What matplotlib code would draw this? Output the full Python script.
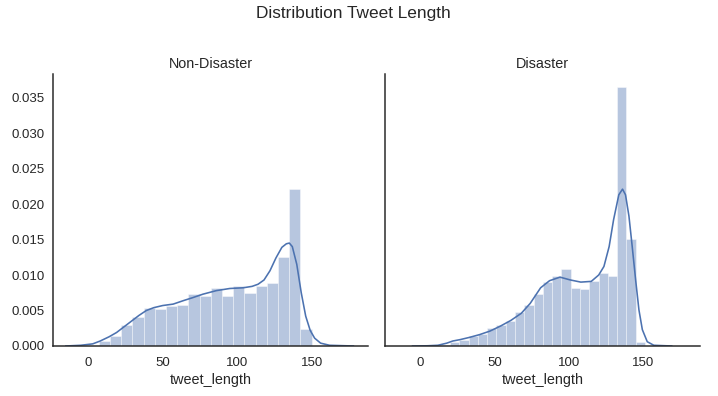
import numpy as np
import matplotlib
matplotlib.use("Agg")
from matplotlib import pyplot as plt

# histogram densities
non_disaster_hist = [0.0007, 0.0014, 0.0030, 0.0041, 0.0053, 0.0052, 0.0056, 0.0058,
                     0.0073, 0.0070, 0.0082, 0.0070, 0.0085, 0.0075, 0.0084, 0.0089,
                     0.0126, 0.0221, 0.0024]
non_disaster_range = (7, 150)

disaster_hist = [0.0002, 0.0006, 0.0009, 0.0014, 0.0017, 0.0025, 0.0030, 0.0035,
                 0.0048, 0.0058, 0.0073, 0.0090, 0.0098, 0.0109, 0.0081, 0.0080,
                 0.0092, 0.0103, 0.0098, 0.0365, 0.0151, 0.0006]
disaster_range = (14, 151)

# kde curves
non_disaster_kde_x = [-15, -5, 3, 8, 14, 19, 24, 29, 34, 39, 44, 50, 57, 64, 70, 77, 86,
                      95, 104, 110, 114, 118, 122, 126, 130, 133, 135, 137, 140, 143,
                      146, 149, 152, 156, 162, 178]
non_disaster_kde_y = [0.0, 0.0001, 0.0003, 0.0007, 0.0013, 0.0019, 0.0027, 0.0035, 0.0043,
                      0.0050, 0.0054, 0.0057, 0.0059, 0.0064, 0.0068, 0.0073, 0.0078,
                      0.0081, 0.0082, 0.0084, 0.0087, 0.0093, 0.0106, 0.0124, 0.0139,
                      0.0144, 0.0145, 0.0140, 0.0115, 0.0075, 0.0042, 0.0022, 0.0011,
                      0.0004, 0.0001, 0.0]

disaster_kde_x = [-5, 5, 12, 18, 22, 27, 33, 40, 47, 54, 61, 68, 74, 81, 87, 94, 101,
                  108, 115, 120, 123.5, 127, 130, 133.5, 136, 138, 140.3, 142.5, 144.8,
                  147, 149.3, 152.6, 157, 169]
disaster_kde_y = [0.0, 0.00003, 0.0001, 0.0004, 0.0007, 0.0009, 0.0012, 0.0016, 0.0021,
                  0.0028, 0.0036, 0.0046, 0.0060, 0.0082, 0.0092, 0.0097, 0.0093, 0.0090,
                  0.0091, 0.0100, 0.0112, 0.0140, 0.0178, 0.0213, 0.0221, 0.0213, 0.0183,
                  0.0140, 0.0093, 0.0051, 0.0023, 0.0006, 0.0001, 0.0]

panels = [
    ("Non-Disaster", non_disaster_hist, non_disaster_range, non_disaster_kde_x, non_disaster_kde_y),
    ("Disaster", disaster_hist, disaster_range, disaster_kde_x, disaster_kde_y),
]

plt.rcParams["font.family"] = ["Liberation Sans", "DejaVu Sans"]
plt.rcParams["text.color"] = "#262626"
plt.rcParams["axes.labelcolor"] = "#262626"
plt.rcParams["xtick.color"] = "#262626"
plt.rcParams["ytick.color"] = "#262626"

blue = "#4C72B0"

fig = plt.figure(figsize=(718 / 72, 396 / 72), dpi=72)
ax1 = fig.add_axes([0.0742, 0.1263, 0.4387, 0.6869])
ax2 = fig.add_axes([0.5362, 0.1263, 0.4387, 0.6869], sharex=ax1, sharey=ax1)

for ax, (title, hist, rng, kx, ky) in zip([ax1, ax2], panels):
    edges = np.linspace(rng[0], rng[1], len(hist) + 1)
    ax.bar(edges[:-1], hist, width=np.diff(edges), align="edge",
           color=blue, alpha=0.4, edgecolor="white", linewidth=1)
    ax.plot(kx, ky, color=blue, linewidth=1.6)
    ax.set_title(title, fontsize=14.4, pad=6)
    ax.set_xlabel("tweet_length", fontsize=14.4, labelpad=4)
    for side in ["top", "right"]:
        ax.spines[side].set_visible(False)
    for side in ["left", "bottom"]:
        ax.spines[side].set_color("#262626")
        ax.spines[side].set_linewidth(1.5)
    ax.tick_params(length=0, labelsize=13.2)
    ax.tick_params(axis="x", pad=11)
    ax.tick_params(axis="y", pad=9)

ax1.set_xlim(-23.5, 188)
ax1.set_xticks([0, 50, 100, 150])
ax1.set_yticks(np.arange(0, 0.036, 0.005))
ax1.set_yticklabels([f"{v:.3f}" for v in np.arange(0, 0.036, 0.005)])
ax2.tick_params(labelleft=False)

fig.suptitle("Distribution Tweet Length", fontsize=17.3, x=0.492, y=0.965, va="center")

fig.savefig("out.png", dpi=72)
